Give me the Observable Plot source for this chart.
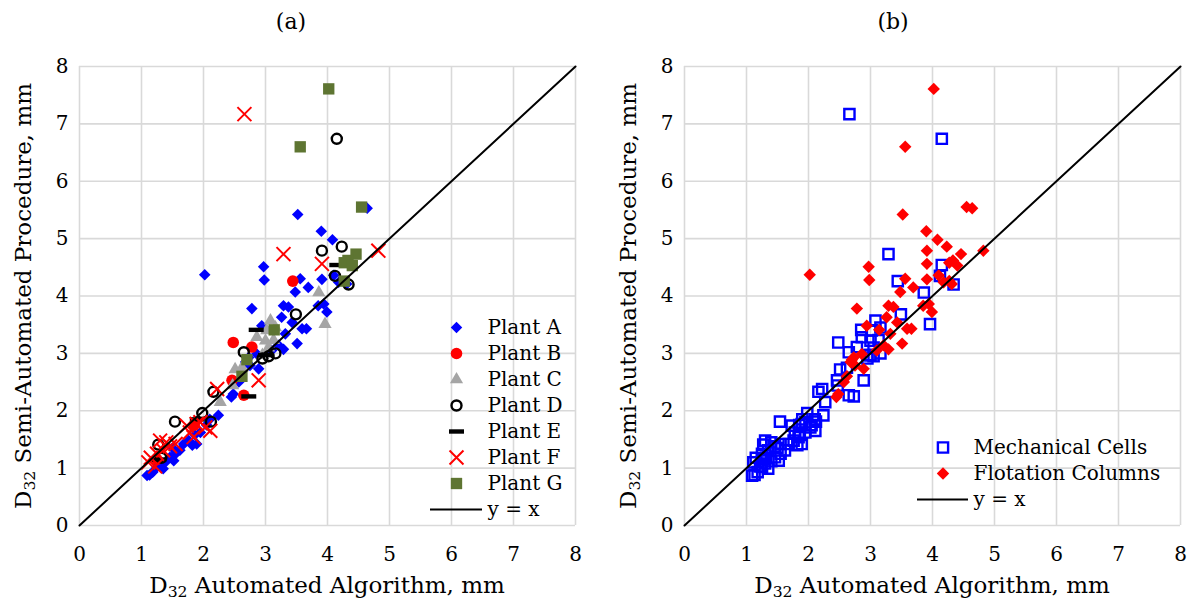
<!DOCTYPE html>
<html><head><meta charset="utf-8">
<script src="https://cdn.jsdelivr.net/npm/d3@7"></script>
<script src="https://cdn.jsdelivr.net/npm/@observablehq/plot@0.6"></script>
<style>
body{margin:0;background:#fff;}
#wrap{position:relative;width:1193px;height:600px;font-family:"DejaVu Serif",serif;color:#000;overflow:hidden;background:#fff}
.abs{position:absolute}
.ctr{transform:translate(-50%,-50%);white-space:nowrap;font-size:22px;line-height:1}
.ax{transform:translate(-50%,-50%);white-space:nowrap;font-size:23px;line-height:1}
.rot{transform:translate(-50%,-50%) rotate(-90deg);white-space:nowrap;font-size:23px;line-height:1}
sub{font-size:0.68em;vertical-align:-0.28em;line-height:0}
</style></head>
<body><div id="wrap"></div>
<script>
// ---------- data ----------
const axisTicks = [0,1,2,3,4,5,6,7,8];
const identityLine = [0, 8];

// points per plant, split by equipment type where a plant has both (panel b)
const plantA_cells = [[1.09,0.87],[1.13,0.88],[1.18,0.93],[1.25,1.02],[1.35,0.99],[1.30,1.08],[1.40,1.12],[1.46,1.19],[1.52,1.13],[1.55,1.25],[1.62,1.31],[1.68,1.42],[1.76,1.48],[1.82,1.40],[1.89,1.42],[1.86,1.58],[1.95,1.62],[2.05,1.75],[2.10,1.85],[2.24,1.92],[1.50,1.35]];
const plantA_columns = [[2.02,4.37],[3.52,5.42],[3.90,5.13],[4.08,4.98],[4.64,5.53],[2.97,4.51],[2.98,4.28],[3.56,4.30],[3.91,4.29],[3.69,4.15],[3.48,4.07],[4.10,4.36],[4.18,4.24],[4.31,4.21],[2.78,3.78],[3.29,3.83],[3.37,3.81],[3.26,3.63],[3.85,3.83],[3.94,3.86],[3.99,3.72],[2.94,3.48],[3.43,3.54],[3.59,3.43],[3.66,3.43],[3.32,3.34],[3.51,3.17],[3.21,3.14],[3.10,3.05],[3.29,3.07],[2.73,2.93],[2.86,2.99],[2.75,2.79],[2.89,2.73],[2.68,2.85],[2.57,2.50],[2.48,2.29],[2.45,2.24]];
const plantB = [[3.44,4.26],[2.48,3.19],[2.78,3.11],[2.65,2.27],[2.46,2.53],[1.25,1.15],[1.85,1.75]];
const plantC = [[3.96,3.51],[3.86,4.06],[3.08,3.57],[3.02,3.40],[3.00,3.22],[3.05,3.10],[2.95,2.97],[2.51,2.72],[2.47,2.44],[2.27,2.15],[2.62,2.75],[2.86,3.28],[3.13,3.23],[3.16,3.45]];
const plantD_cells = [[4.15,6.74],[4.12,4.35],[4.34,4.20],[3.49,3.68],[2.65,3.02],[2.95,2.91],[3.16,3.00],[3.05,2.95],[2.16,2.33],[1.98,1.96],[1.54,1.81],[2.12,1.81],[1.27,1.41],[1.32,1.18]];
const plantD_columns = [[3.91,4.79],[4.23,4.86]];
const plantE = [[2.85,3.41],[2.73,2.25],[4.15,4.54],[3.00,2.97],[1.90,1.85],[1.28,1.15]];
const plantF_cells = [[2.66,7.17],[3.29,4.73],[2.89,2.53],[2.22,2.38],[1.11,1.10],[1.15,1.18],[1.22,1.03],[1.30,1.48],[1.35,1.31],[1.46,1.38],[1.40,1.45],[1.55,1.42],[1.73,1.74],[1.84,1.54],[1.89,1.77],[2.03,1.71],[2.11,1.65],[1.95,1.80],[1.78,1.62],[1.25,1.25]];
const plantF_columns = [[4.82,4.79],[3.91,4.56]];
const plantG = [[4.02,7.61],[3.56,6.60],[4.55,5.55],[4.46,4.73],[4.33,4.62],[4.27,4.58],[4.40,4.53],[4.27,4.26],[3.14,3.41],[2.70,2.89],[2.62,2.60]];

const plantNames = ["Plant A","Plant B","Plant C","Plant D","Plant E","Plant F","Plant G"];
const plantData = [plantA_cells.concat(plantA_columns), plantB, plantC, plantD_cells.concat(plantD_columns), plantE, plantF_cells.concat(plantF_columns), plantG];
const typeNames = ["Mechanical Cells","Flotation Columns"];
const typeData = [plantA_cells.concat(plantB, plantC, plantD_cells, plantE, plantF_cells), plantA_columns.concat(plantD_columns, plantF_columns, plantG)];
const lineLabel = "y = x";

// ---------- styles ----------
const dash = {draw(ctx){ctx.moveTo(-7.5,-2.2);ctx.lineTo(7.5,-2.2);ctx.lineTo(7.5,2.2);ctx.lineTo(-7.5,2.2);ctx.closePath();}};
const plantStyle = [
  {symbol:"diamond2", fill:"#0000ff", r:5.2},
  {symbol:"circle", fill:"#ff0000", r:5.8},
  {symbol:"triangle", fill:"#a5a5a5", r:4.9},
  {symbol:"circle", fill:"none", stroke:"#000", strokeWidth:2.4, r:5},
  {symbol:dash, fill:"#000", r:4},
  {symbol:"times", fill:"none", stroke:"#ff0000", strokeWidth:2, r:6.4},
  {symbol:"square", fill:"#5e7532", r:6.4}
];
const typeStyle = [
  {symbol:"square2", fill:"none", stroke:"#0000ff", strokeWidth:2.4, r:6.5},
  {symbol:"diamond2", fill:"#ff0000", r:5.6}
];
const FONT = "DejaVu Serif";
const GRID = "#d9d9d9";

function dots(data, st){ return Plot.dot(data, {x:d=>d[0], y:d=>d[1], ...st}); }

function panel(width, ml, mr, groups, styles){
  return Plot.plot({
    width, height:600, marginTop:66, marginBottom:75, marginLeft:ml, marginRight:mr,
    x:{domain:[0,8]}, y:{domain:[0,8]},
    style:{fontFamily:FONT, fontSize:"20px", background:"transparent", color:"#000"},
    marks:[
      Plot.gridX(axisTicks, {stroke:GRID, strokeOpacity:1, strokeWidth:1.6}),
      Plot.gridY(axisTicks, {stroke:GRID, strokeOpacity:1, strokeWidth:1.6}),
      Plot.axisX(axisTicks, {tickSize:0, tickPadding:21, label:null, fontSize:20, tickFormat:"d"}),
      Plot.axisY(axisTicks, {tickSize:0, tickPadding:11, label:null, fontSize:20, tickFormat:"d"}),
      ...groups.map((g,i)=>dots(g, styles[i])),
      Plot.line(identityLine, {x:d=>d, y:d=>d, stroke:"#000", strokeWidth:2})
    ]
  });
}

function legend(names, styles, width, height, yRange, xRange){
  const all = names.concat([lineLabel]);
  return Plot.plot({
    width, height, margin:0,
    x:{domain:[0,1], range:xRange, axis:null},
    y:{type:"point", domain:all, range:yRange, padding:0, axis:null},
    style:{fontFamily:FONT, fontSize:"20px", background:"transparent", overflow:"visible"},
    marks:[
      ...names.map((n,i)=>Plot.dot([n], {x:()=>0.5, y:d=>d, ...styles[i]})),
      Plot.ruleY([lineLabel], {y:d=>d, x1:0, x2:1, stroke:"#000", strokeWidth:2}),
      Plot.text(all, {x:()=>1, y:d=>d, text:d=>d, dx:5, textAnchor:"start", fontSize:20})
    ]
  });
}

const wrap = document.getElementById("wrap");
function place(el, left, top){ el.style.position="absolute"; el.style.left=left+"px"; el.style.top=top+"px"; wrap.appendChild(el); }
function label(html, left, top, cls){ const d=document.createElement("div"); d.className="abs "+cls; d.innerHTML=html; d.style.left=left+"px"; d.style.top=top+"px"; wrap.appendChild(d); }

place(panel(597, 79, 22, plantData, plantStyle), 0, 0);
place(panel(596, 87, 13, typeData, typeStyle), 597, 0);
place(legend(plantNames, plantStyle, 180, 215, [16.7, 200], [10, 62]), 420, 310);
place(legend(typeNames, typeStyle, 290, 90, [16.7, 70], [17, 68]), 900, 430);

label("(a)", 291, 22, "ctr");
label("(b)", 893, 22, "ctr");
label("D<sub>32</sub> Automated Algorithm, mm", 327, 585, "ax");
label("D<sub>32</sub> Automated Algorithm, mm", 932, 585, "ax");
label("D<sub>32</sub> Semi-Automated Procedure, mm", 23, 296, "rot");
label("D<sub>32</sub> Semi-Automated Procedure, mm", 628, 296, "rot");
</script>
</body></html>
